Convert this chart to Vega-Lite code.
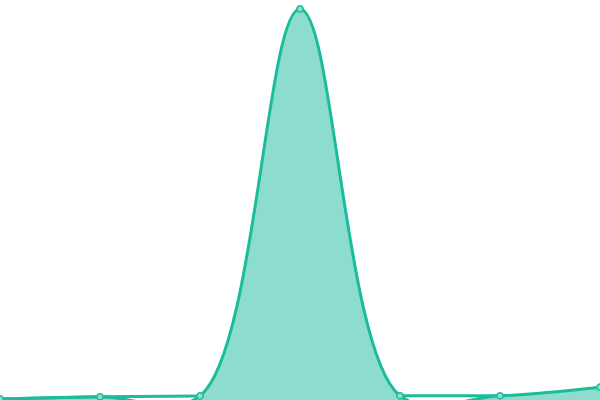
{
  "$schema": "https://vega.github.io/schema/vega-lite/v6.json",
  "width": 600,
  "height": 400,
  "autosize": {"type": "none"},
  "padding": 0,
  "config": {"view": {"stroke": null}},
  "data": {"values": [
    {"x": 0, "y": 0.25},
    {"x": 1, "y": 0.8},
    {"x": 2, "y": 1.0},
    {"x": 3, "y": 97.75},
    {"x": 4, "y": 1.05},
    {"x": 5, "y": 1.05},
    {"x": 6, "y": 3.2}
  ]},
  "encoding": {
    "x": {"field": "x", "type": "quantitative", "scale": {"domain": [0, 6], "nice": false, "zero": false}, "axis": null},
    "y": {"field": "y", "type": "quantitative", "scale": {"domain": [0, 100], "nice": false}, "axis": null}
  },
  "layer": [
    {"mark": {"type": "area", "interpolate": "catmull-rom", "color": "#1abc9c", "fillOpacity": 0.5, "line": {"color": "#1abc9c", "strokeWidth": 3}}},
    {"transform": [{"filter": {"field": "x", "lte": 2}}],
     "mark": {"type": "line", "interpolate": "monotone", "color": "#1abc9c", "strokeWidth": 3}},
    {"transform": [{"filter": {"field": "x", "range": [4, 5]}}],
     "mark": {"type": "line", "interpolate": "monotone", "color": "#1abc9c", "strokeWidth": 3}},
    {"mark": {"type": "point", "filled": true, "shape": "circle", "size": 40, "fill": "#8ddece", "stroke": "#1abc9c", "strokeWidth": 1.5, "opacity": 1}}
  ]
}
